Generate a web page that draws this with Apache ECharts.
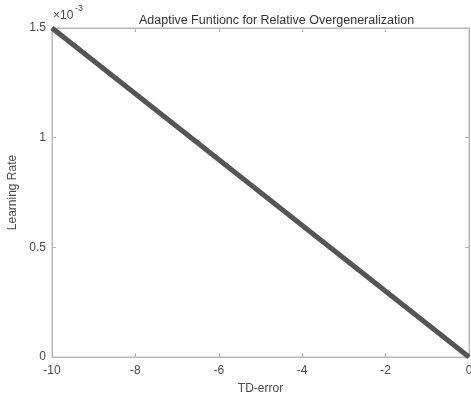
<!DOCTYPE html>
<html><head><meta charset="utf-8">
<script src="https://cdn.jsdelivr.net/npm/echarts@6/dist/echarts.min.js"></script>
<style>html,body{margin:0;padding:0;background:#fff}#c{width:471px;height:394px}</style>
</head><body><div id="c"></div>
<script>
const tdError = [-10, 0];
const learningRate = [0.0015, 0];
const xTicks = [-10, -8, -6, -4, -2, 0];
const yTicks = [0, 0.0005, 0.001, 0.0015];
const titleMain = 'Adaptive Funtionc for ';
const titleSub = 'Relative Overgeneralization';
const xName = 'TD-error';
const yName = 'Learning Rate';
const expBase = '×10';
const expPow = '-3';

const font = 'Liberation Sans, Arial, sans-serif';
const axisCol = '#b8b8b8';
const labCol = '#4a4a4a';
const chart = echarts.init(document.getElementById('c'), null, {renderer: 'canvas'});
chart.setOption({
  animation: false,
  backgroundColor: '#fff',
  title: {
    text: '{a|' + titleMain + '}{b|' + titleSub + '}',
    left: 134, top: 9,
    textStyle: {
      fontWeight: 'normal',
      rich: {
        a: {fontFamily: font, fontSize: 12.5, fontWeight: 'normal', color: '#333'},
        b: {fontFamily: 'Liberation Sans Narrow, Arial Narrow, Liberation Sans', fontSize: 12.5, fontWeight: 'normal', color: '#333'}
      }
    }
  },
  grid: {left: 52, right: 2, top: 28, bottom: 37, show: true, borderColor: axisCol, borderWidth: 1,
    containLabel: false, outerBoundsMode: 'none'},
  xAxis: [{
    type: 'value', min: -10, max: 0, interval: 2,
    name: xName, nameLocation: 'middle', nameGap: 26,
    nameTextStyle: {fontFamily: font, fontSize: 12, color: labCol},
    axisLine: {show: true, onZero: false, lineStyle: {color: axisCol}},
    axisTick: {show: true, inside: true, length: 4, lineStyle: {color: axisCol}},
    axisLabel: {fontFamily: font, fontSize: 12, color: labCol, margin: 8},
    splitLine: {show: false}
  }, {
    type: 'value', min: -10, max: 0, interval: 2, position: 'top',
    axisLine: {show: true, onZero: false, lineStyle: {color: axisCol}},
    axisTick: {show: true, inside: true, length: 4, lineStyle: {color: axisCol}},
    axisLabel: {show: false}, splitLine: {show: false}
  }],
  yAxis: [{
    type: 'value', min: 0, max: 0.0015, interval: 0.0005,
    name: yName, nameLocation: 'middle', nameGap: 28,
    nameTextStyle: {fontFamily: font, fontSize: 12, color: labCol},
    axisLine: {show: true, onZero: false, lineStyle: {color: axisCol}},
    axisTick: {show: true, inside: true, length: 4, lineStyle: {color: axisCol}},
    axisLabel: {fontFamily: font, fontSize: 12, color: labCol, margin: 6,
      formatter: v => String(+(v * 1000).toFixed(4))},
    splitLine: {show: false}
  }, {
    type: 'value', min: 0, max: 0.0015, interval: 0.0005, position: 'right',
    axisLine: {show: true, onZero: false, lineStyle: {color: axisCol}},
    axisTick: {show: true, inside: true, length: 4, lineStyle: {color: axisCol}},
    axisLabel: {show: false}, splitLine: {show: false}
  }],
  graphic: [{
    type: 'text', left: 53, top: 10,
    style: {text: expBase, fontFamily: font, fontSize: 12, fill: labCol}
  }, {
    type: 'text', left: 75, top: 4,
    style: {text: expPow, fontFamily: font, fontSize: 9, fill: labCol}
  }],
  series: [{
    type: 'line', xAxisIndex: 0, yAxisIndex: 0,
    data: tdError.map((x, i) => [x, learningRate[i]]),
    showSymbol: false, symbol: 'none',
    lineStyle: {color: '#555555', width: 5}
  }]
});
</script></body></html>
